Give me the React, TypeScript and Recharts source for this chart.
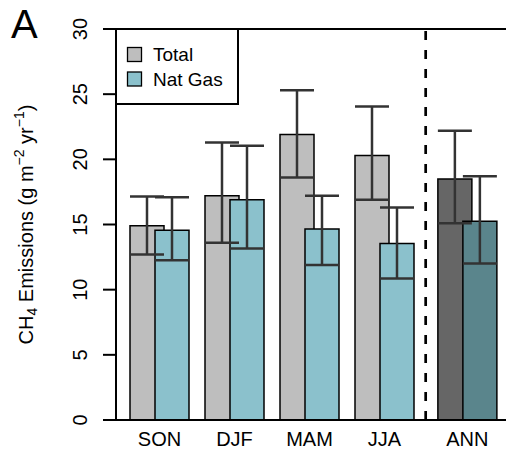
import {
	ComposedChart,
	Bar,
	Cell,
	ErrorBar,
	XAxis,
	YAxis,
	ReferenceLine,
	Legend,
} from "recharts";

const categories = ["SON", "DJF", "MAM", "JJA", "ANN"];
// ANN sits a little further right, past the dashed separator
const positions = [1, 2, 3, 4, 5.105];

const total = [14.9, 17.2, 21.9, 20.3, 18.5];
const totalLow = [12.7, 13.6, 18.6, 16.9, 15.1];
const totalHigh = [17.15, 21.3, 25.3, 24.05, 22.2];

const natGas = [14.55, 16.9, 14.65, 13.55, 15.25];
const natGasLow = [12.25, 13.15, 11.9, 10.85, 12.0];
const natGasHigh = [17.1, 21.05, 17.2, 16.3, 18.7];

const yTicks = [0, 5, 10, 15, 20, 25, 30];
const legendOrder = ["Total", "Nat Gas"];

const totalColor = "#bebebe";
const natGasColor = "#8bc1cc";
const annTotalColor = "#666666";
const annNatGasColor = "#5a858c";

const font = "'Liberation Sans', Arial, Helvetica, sans-serif";

const data = categories.map((name, i) => ({
	name,
	x: positions[i],
	total: total[i],
	totalErr: [total[i] - totalLow[i], totalHigh[i] - total[i]],
	natGas: natGas[i],
	natGasErr: [natGas[i] - natGasLow[i], natGasHigh[i] - natGas[i]],
}));

const YTick = (props: any) => {
	const { x, y, payload } = props;
	const bx = x - 14;
	return (
		<text
			x={bx}
			y={y}
			transform={`rotate(-90 ${bx} ${y})`}
			textAnchor="middle"
			fontSize={20}
			fontFamily={font}
			fill="#000"
		>
			{payload.value}
		</text>
	);
};

const XTick = (props: any) => {
	const { x, y, payload } = props;
	const idx = positions.indexOf(payload.value);
	return (
		<text
			x={x}
			y={y + 18}
			textAnchor="middle"
			fontSize={20}
			fontFamily={font}
			fill="#000"
		>
			{categories[idx]}
		</text>
	);
};

const YLabel = (props: any) => {
	const { viewBox } = props;
	const bx = viewBox.x + 33;
	const cy = viewBox.y + viewBox.height / 2;
	return (
		<text
			x={bx}
			y={cy}
			transform={`rotate(-90 ${bx} ${cy})`}
			textAnchor="middle"
			fontSize={20}
			fontFamily={font}
			fill="#000"
		>
			CH
			<tspan fontSize={14} dy={4}>
				4
			</tspan>
			<tspan dy={-4}> Emissions (g m</tspan>
			<tspan fontSize={14} dy={-9}>
				−2
			</tspan>
			<tspan dy={9}> yr</tspan>
			<tspan fontSize={14} dy={-9}>
				−1
			</tspan>
			<tspan dy={9}>)</tspan>
		</text>
	);
};

const renderLegend = (props: any) => {
	const { payload } = props;
	if (!payload) return null;
	const items = [...payload].sort(
		(a: any, b: any) => legendOrder.indexOf(a.value) - legendOrder.indexOf(b.value),
	);
	return (
		<svg width={125} height={78} style={{ display: "block" }}>
			<rect x={1} y={1} width={122} height={75} fill="#fff" stroke="#000" strokeWidth={2} />
			{items.map((entry: any, i: number) => (
				<g key={`leg-${entry.value}`}>
					<rect
						x={12.5}
						y={19.5 + i * 24.5}
						width={14}
						height={14}
						fill={entry.color}
						stroke="#000"
						strokeWidth={1.3}
					/>
					<text x={38} y={33 + i * 25} fontSize={19} fontFamily={font} fill="#000">
						{entry.value}
					</text>
				</g>
			))}
		</svg>
	);
};

export default function App() {
	return (
		<div style={{ position: "absolute", left: 0, top: 0, width: 506, height: 449 }}>
			<ComposedChart
				width={506}
				height={449}
				data={data}
				margin={{ top: 29, right: 0, left: 0, bottom: 0 }}
				barSize={34}
				barGap={-9}
			>
				<XAxis
					dataKey="x"
					type="number"
					domain={[0.42, 5.62]}
					allowDataOverflow
					ticks={positions}
					tick={<XTick />}
					tickLine={false}
					axisLine={{ stroke: "#000", strokeWidth: 2 }}
					height={29}
				/>
				<YAxis
					domain={[0, 30]}
					ticks={yTicks}
					width={116}
					tickSize={13}
					tickLine={{ stroke: "#000", strokeWidth: 2 }}
					axisLine={{ stroke: "#000", strokeWidth: 2 }}
					tick={<YTick />}
					label={{ content: <YLabel /> }}
				/>
				<ReferenceLine y={30} stroke="#000" strokeWidth={2} />
				<ReferenceLine x={4.549} stroke="#000" strokeWidth={2.7} strokeDasharray="9 10" />
				<Legend
					content={renderLegend}
					layout="vertical"
					align="center"
					verticalAlign="middle"
					wrapperStyle={{ position: "absolute", left: 115, top: 28, width: 125, height: 78 }}
				/>
				<Bar
					dataKey="total"
					name="Total"
					fill={totalColor}
					stroke="#000"
					strokeWidth={1.5}
					isAnimationActive={false}
				>
					{data.map((d, i) => (
						<Cell key={`t-${d.name}`} fill={i === 4 ? annTotalColor : totalColor} />
					))}
					<ErrorBar
						dataKey="totalErr"
						direction="y"
						width={17}
						stroke="#333"
						strokeWidth={2.5}
						isAnimationActive={false}
					/>
				</Bar>
				<Bar
					dataKey="natGas"
					name="Nat Gas"
					fill={natGasColor}
					stroke="#000"
					strokeWidth={1.5}
					isAnimationActive={false}
				>
					{data.map((d, i) => (
						<Cell key={`n-${d.name}`} fill={i === 4 ? annNatGasColor : natGasColor} />
					))}
					<ErrorBar
						dataKey="natGasErr"
						direction="y"
						width={17}
						stroke="#333"
						strokeWidth={2.5}
						isAnimationActive={false}
					/>
				</Bar>
			</ComposedChart>
			<div
				style={{
					position: "absolute",
					left: 11,
					top: 2,
					fontSize: 40,
					lineHeight: "44px",
					fontFamily: font,
					color: "#000",
				}}
			>
				A
			</div>
		</div>
	);
}
